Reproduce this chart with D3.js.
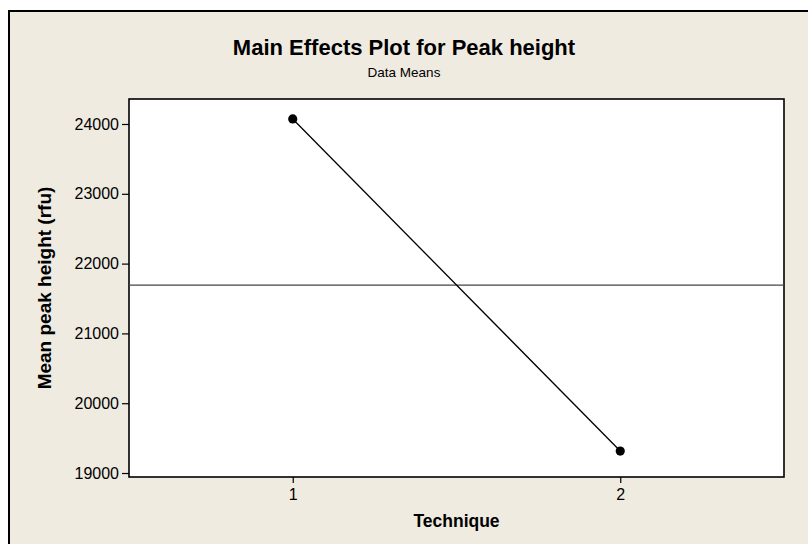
<!DOCTYPE html>
<html>
<head>
<meta charset="utf-8">
<script src="https://cdn.jsdelivr.net/npm/d3@7/dist/d3.min.js"></script>
<style>
  html, body { margin: 0; padding: 0; background: #ffffff; }
  svg { display: block; }
  text { font-family: "Liberation Sans", Arial, sans-serif; fill: #000; }
</style>
</head>
<body>
<svg id="chart" width="808" height="544"></svg>
<script>
// ---- data ----
const categories = [1, 2];
const means = [24072, 19315];
const grandMean = 21693;
const yTicks = [19000, 20000, 21000, 22000, 23000, 24000];
const xTickLabels = ["1", "2"];
const title = "Main Effects Plot for Peak height";
const subtitle = "Data Means";
const xLabel = "Technique";
const yLabel = "Mean peak height  (rfu)";

// ---- layout ----
const W = 808, H = 544;
const plot = { left: 129, right: 784, top: 99, bottom: 477 };
const svg = d3.select("#chart");

// outer frame
svg.append("rect").attr("x", 9).attr("y", 11).attr("width", W + 10).attr("height", H + 10)
  .attr("fill", "#EFEBE1").attr("stroke", "#000").attr("stroke-width", 2);

// scales
const x = d3.scaleLinear().domain([0.5, 2.5]).range([plot.left, plot.right]);
const y = d3.scaleLinear().domain([18943, 24358]).range([plot.bottom, plot.top]);

// plot area
svg.append("rect").attr("x", plot.left).attr("y", plot.top)
  .attr("width", plot.right - plot.left).attr("height", plot.bottom - plot.top)
  .attr("fill", "#fff").attr("stroke", "#000").attr("stroke-width", 1.6);

// axes
const yAxis = d3.axisLeft(y).tickValues(yTicks).tickFormat(d3.format("d")).tickSize(7).tickPadding(3);
const gy = svg.append("g").attr("transform", `translate(${plot.left},0)`).call(yAxis);
gy.select(".domain").remove();
gy.selectAll("text").style("font-size", "16px").attr("fill", "#222");
gy.selectAll("line").attr("stroke", "#000").attr("stroke-width", 1.2);

const xAxis = d3.axisBottom(x).tickValues(categories).tickFormat((d, i) => xTickLabels[i]).tickSize(6).tickPadding(6);
const gx = svg.append("g").attr("transform", `translate(0,${plot.bottom})`).call(xAxis);
gx.select(".domain").remove();
gx.selectAll("text").style("font-size", "16px").attr("fill", "#222");
gx.selectAll("line").attr("stroke", "#000").attr("stroke-width", 1.2);

// grand mean reference line
svg.append("line").attr("x1", plot.left).attr("x2", plot.right)
  .attr("y1", y(grandMean)).attr("y2", y(grandMean))
  .attr("stroke", "#444").attr("stroke-width", 1.2);

// main effect line
const pts = categories.map((c, i) => [c, means[i]]);
svg.append("path").datum(pts)
  .attr("d", d3.line().x(d => x(d[0])).y(d => y(d[1])))
  .attr("fill", "none").attr("stroke", "#000").attr("stroke-width", 1.3);
svg.selectAll("circle.pt").data(pts).join("circle").attr("class", "pt")
  .attr("cx", d => x(d[0])).attr("cy", d => y(d[1])).attr("r", 4.6).attr("fill", "#000");

// titles
svg.append("text").attr("x", 404).attr("y", 55).attr("text-anchor", "middle")
  .style("font-size", "22px").style("font-weight", "bold").text(title);
svg.append("text").attr("x", 404).attr("y", 77).attr("text-anchor", "middle")
  .style("font-size", "13.5px").attr("fill", "#222").text(subtitle);
svg.append("text").attr("x", (plot.left + plot.right) / 2).attr("y", 527).attr("text-anchor", "middle")
  .style("font-size", "17.5px").style("font-weight", "bold").text(xLabel);
svg.append("text").attr("transform", `translate(51,${(plot.top + plot.bottom) / 2}) rotate(-90)`)
  .attr("text-anchor", "middle")
  .style("font-size", "19px").style("font-weight", "bold").text(yLabel);
</script>
</body>
</html>
